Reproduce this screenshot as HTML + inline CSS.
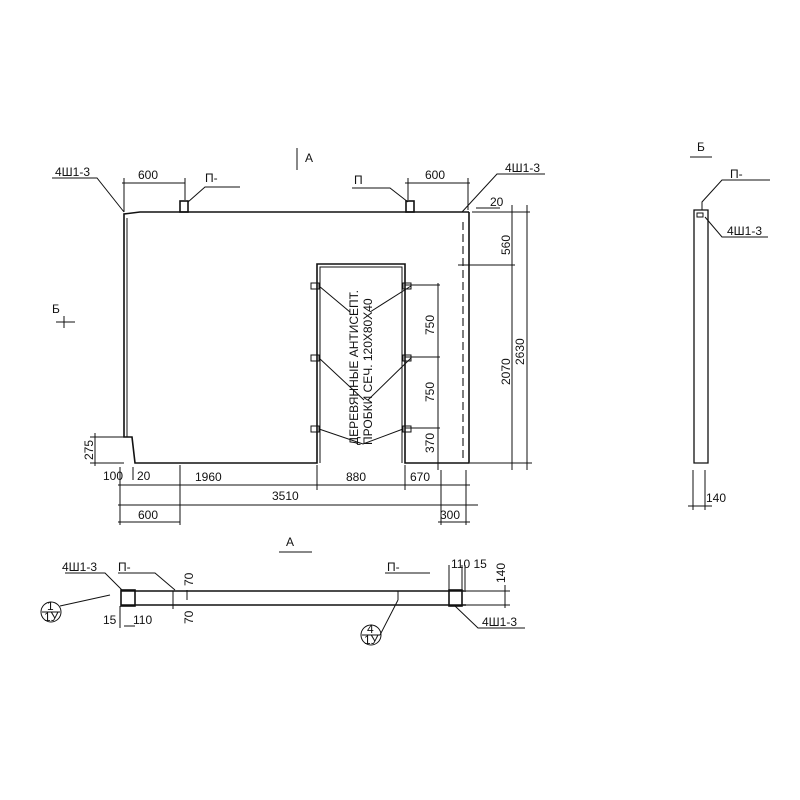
<!DOCTYPE html>
<html><head><meta charset="utf-8"><style>body{margin:0;background:#fff}svg{display:block}text{font-family:"Liberation Sans",sans-serif;fill:#111;stroke:none;font-size:12px}</style></head><body>
<svg width="800" height="800" viewBox="0 0 800 800" xmlns="http://www.w3.org/2000/svg" stroke="#111" fill="none" stroke-width="1">
<!-- main panel -->
<g stroke-width="1.6">
<path d="M124 437 V214 L140 212 L469 212 M124 214 V437 H132 L135 463 H317 V264 H405 V463 H469 V212"/>
<path d="M127 218 V437 M320 463 V267 H402 V463" stroke-width="1"/>
<path d="M463 222 V458" stroke-dasharray="8 4" stroke-width="1.1"/>
<rect x="180" y="201" width="8" height="11"/><rect x="406" y="201" width="8" height="11"/>
</g>
<!-- plugs -->
<g stroke-width="1">
<rect x="311" y="283" width="8" height="6"/><rect x="311" y="355" width="8" height="6"/><rect x="311" y="426" width="8" height="6"/>
<rect x="403" y="283" width="8" height="6"/><rect x="403" y="355" width="8" height="6"/><rect x="403" y="426" width="8" height="6"/>
<path d="M319 286 L350 312 M319 358 L364 400 M319 429 L363 444 L403 429 M411 286 L370 312 M411 358 L368 400"/>
</g>
<text transform="translate(358 445) rotate(-90)" font-size="12">ДЕРЕВЯННЫЕ АНТИСЕПТ.</text>
<text transform="translate(372 445) rotate(-90)" font-size="12">ПРОБКИ  СЕЧ. 120Х80Х40</text>
<!-- top dims -->
<path d="M122 183 H185 M124 178 V212 M185 178 V200 M405 183 H470 M408 178 V200 M468 178 V210"/>
<text x="138" y="179">600</text><text x="425" y="179">600</text>
<text x="55" y="176">4Ш1-3</text><path d="M52 178 H97 L124 212"/>
<text x="505" y="172">4Ш1-3</text><path d="M545 174 H497 L462 212"/>
<text x="205" y="182">П-</text><path d="M240 187 H205 L188 202"/>
<text x="354" y="184">П</text><path d="M352 188 H390 L408 202"/>
<text x="305" y="162">А</text><path d="M297 148 V170"/>
<text x="52" y="313">Б</text><path d="M56 322 H75 M64 316 V328"/>
<!-- right dims -->
<path d="M472 212 H530 M458 265 H515 M470 463 H532 M512 205 V470 M527 205 V470 M476 208 H500"/>
<text x="490" y="206" font-size="11">20</text>
<text transform="translate(510 255) rotate(-90)">560</text>
<text transform="translate(510 385) rotate(-90)">2070</text>
<text transform="translate(524 365) rotate(-90)">2630</text>
<path d="M405 285 H440 M405 357 H440 M405 428 H440 M438 283 V470"/>
<text transform="translate(434 335) rotate(-90)">750</text>
<text transform="translate(434 402) rotate(-90)">750</text>
<text transform="translate(434 453) rotate(-90)">370</text>
<!-- bottom dims -->
<path d="M90 437 H124 M95 433 V466 M90 463 H124"/>
<text transform="translate(93 460) rotate(-90)" font-size="11">275</text>
<text x="103" y="480" font-size="11">100</text><text x="137" y="480" font-size="11">20</text>
<path d="M120 467 V525 M133 467 V480 M180 465 V525 M317 465 V490 M405 465 V490 M441 470 V525 M466 470 V525"/>
<path d="M118 485 H470 M118 505 H478 M118 522 H180 M438 522 H470"/>
<text x="195" y="481">1960</text><text x="346" y="481">880</text><text x="410" y="481">670</text>
<text x="272" y="500">3510</text><text x="138" y="519">600</text><text x="440" y="519">300</text>
<text x="286" y="546">А</text><path d="M279 552 H312"/>
<!-- section A -->
<g stroke-width="1.6"><path d="M121 591 H466 M121 605 H466"/><rect x="121" y="590" width="14" height="16"/><rect x="449" y="590" width="13" height="16"/></g>
<path d="M466 591 H510 M466 605 H510 M505 585 V608 M173 591 V609 M187 590 V600 M398 591 V600"/>
<text x="62" y="571">4Ш1-3</text><path d="M65 573 H105 L122 590"/>
<text x="118" y="571">П-</text><path d="M118 573 H155 L175 590"/>
<text x="387" y="571">П-</text><path d="M385 573 H430 M398 600 L380 635"/>
<text x="451" y="568" font-size="11">110 15</text><path d="M449 565 V590 M462 565 V590 M465 565 V590"/>
<text transform="translate(505 583) rotate(-90)" font-size="11">140</text>
<text transform="translate(193 586) rotate(-90)" font-size="11">70</text>
<text transform="translate(193 624) rotate(-90)" font-size="11">70</text>
<text x="103" y="624" font-size="11">15</text><text x="133" y="624" font-size="11">110</text>
<path d="M120 606 V628 M124 626 H135"/>
<text x="482" y="626">4Ш1-3</text><path d="M455 606 L478 628 H525"/>
<circle cx="51" cy="612" r="10"/><path d="M42 612 H60 M60 606 L110 595"/>
<text x="47" y="610" font-size="9">1</text><text x="44" y="621" font-size="9">1У</text>
<circle cx="371" cy="635" r="10"/><path d="M362 635 H380"/>
<text x="367" y="633" font-size="9">4</text><text x="364" y="644" font-size="9">1У</text>
<!-- section B -->
<text x="697" y="151">Б</text><path d="M690 157 H712"/>
<path d="M694 210 H708 V463 H694 Z" stroke-width="1.3"/>
<rect x="697" y="213" width="6" height="4"/>
<path d="M702 210 V202 L722 180 H770"/><text x="730" y="178">П-</text>
<path d="M705 217 L722 237 H768"/><text x="727" y="235">4Ш1-3</text>
<path d="M693 470 V510 M705 470 V510 M688 506 H712"/>
<text x="706" y="502" font-size="11">140</text>
</svg>
</body></html>
